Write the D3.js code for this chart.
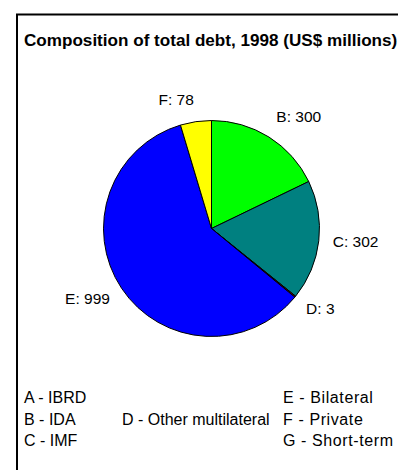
<!DOCTYPE html>
<html>
<head>
<meta charset="utf-8">
<script src="https://cdn.jsdelivr.net/npm/d3@7"></script>
<style>
  html, body { margin: 0; padding: 0; background: #fff; }
  svg { display: block; }
</style>
</head>
<body>
<svg id="chart" width="398" height="470"></svg>
<script>
const title = "Composition of total debt, 1998 (US$ millions)";
const sliceKeys = ["B", "C", "D", "E", "F"];
const sliceValues = [300, 302, 3, 999, 78];
const sliceColors = ["#00FF00", "#008080", "#800000", "#0000FF", "#FFFF00"];
const legendCol1 = ["A - IBRD", "B - IDA", "C - IMF"];
const legendCol2 = ["", "D - Other multilateral", ""];
const legendCol3 = ["E - Bilateral", "F - Private", "G - Short-term"];

const svg = d3.select("#chart");
const font = "Arial, 'Liberation Sans', Helvetica, sans-serif";

// frame (extends past the visible window on the right and bottom)
svg.append("rect")
  .attr("x", 17).attr("y", 14.5)
  .attr("width", 600).attr("height", 600)
  .attr("fill", "#fff").attr("stroke", "#000").attr("stroke-width", 2);

svg.append("text")
  .attr("x", 24).attr("y", 45.5)
  .attr("font-family", font).attr("font-weight", "bold").attr("font-size", 17.1)
  .attr("fill", "#000")
  .text(title);

const cx = 211.5, cy = 228.5, r = 108;
const data = sliceKeys.map((k, i) => ({ key: k, value: sliceValues[i], color: sliceColors[i] }));
const pie = d3.pie().value(d => d.value).sort(null);
const arc = d3.arc().innerRadius(0).outerRadius(r);
const arcs = pie(data);

const g = svg.append("g").attr("transform", `translate(${cx},${cy})`);
g.selectAll("path").data(arcs).join("path")
  .attr("d", arc)
  .attr("fill", d => d.data.color)
  .attr("stroke", "#000").attr("stroke-width", 1);

// labels: nearest corner of the label box placed just outside the pie at mid-angle
const labelFont = 15.5;
const lbl = g.selectAll("text.lbl").data(arcs).join("text")
  .attr("class", "lbl")
  .attr("font-family", font).attr("font-size", labelFont)
  .attr("fill", "#000")
  .text(d => `${d.data.key}: ${d.data.value}`);

lbl.each(function(d) {
  const a = (d.startAngle + d.endAngle) / 2;
  const w = this.getComputedTextLength();
  const h = labelFont * 0.72;
  const rr = r + 14;
  const px = rr * Math.sin(a), py = -rr * Math.cos(a);
  const clamp = v => Math.max(-1, Math.min(1, v));
  const bx = px + (w / 2) * clamp(Math.sin(a) * 8);
  const by = py - (h / 2) * clamp(Math.cos(a) * 3);
  d3.select(this)
    .attr("x", bx).attr("y", by + h / 2 - 3)
    .attr("text-anchor", "middle");
});

// legend
const legendX = [24, 122, 283];
const legendSpacing = [0, 0, 0.6];
const legendY0 = 403, legendDy = 21.5;
[legendCol1, legendCol2, legendCol3].forEach((col, ci) => {
  col.forEach((t, ri) => {
    if (!t) return;
    svg.append("text")
      .attr("x", legendX[ci]).attr("y", legendY0 + ri * legendDy)
      .attr("font-family", font).attr("font-size", 16)
      .attr("letter-spacing", legendSpacing[ci])
      .attr("fill", "#000")
      .text(t);
  });
});
</script>
</body>
</html>
